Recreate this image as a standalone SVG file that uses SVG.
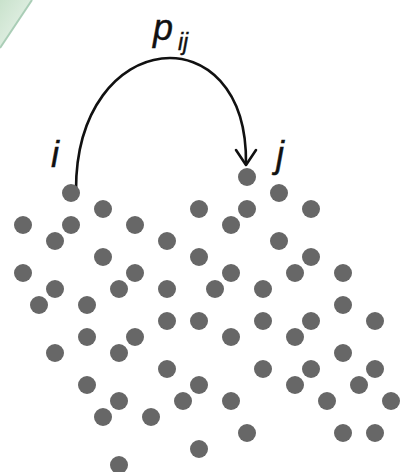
<svg xmlns="http://www.w3.org/2000/svg" width="401" height="472" viewBox="0 0 401 472">
<defs>
<style>
.dot{fill:#676767}
.lbl{font-family:"Liberation Sans",Arial,sans-serif;font-style:italic;fill:#111;stroke:#111;stroke-width:0.4}
.conn{fill:none;stroke:#111;stroke-width:2.6;stroke-linecap:round;stroke-linejoin:round}
</style>
<linearGradient id="g" x1="0" y1="0" x2="1" y2="1">
<stop offset="0" stop-color="#c9e2cc"/>
<stop offset="1" stop-color="#eef6f0"/>
</linearGradient>
</defs>
<rect width="401" height="472" fill="#fff"/>
<g id="bg-corner">
<polygon points="0,0 32,0 0,48" fill="url(#g)"/>
<line x1="32" y1="0" x2="0" y2="48" stroke="#a9cdb6" stroke-width="2"/>
</g>
<g id="connectors">
<path class="conn" d="M76,190 C76,26 248,12 246,164"/>
<polyline class="conn" points="236,150 246,165 256,150"/>
</g>
<g id="labels">
<text id="label-p" class="lbl" x="153" y="40" font-size="36">p</text>
<text id="label-ij" class="lbl" x="178" y="50" font-size="23">ij</text>
<text id="label-i" class="lbl" x="51" y="167" font-size="36">i</text>
<text id="label-j" class="lbl" x="276" y="167" font-size="36">j</text>
</g>
<g id="points">
<circle id="node-i" class="dot" cx="71" cy="193" r="9"/>
<circle id="node-j" class="dot" cx="247" cy="177" r="9"/>
<circle class="dot" cx="279" cy="193" r="9"/>
<circle class="dot" cx="103" cy="209" r="9"/>
<circle class="dot" cx="199" cy="209" r="9"/>
<circle class="dot" cx="247" cy="209" r="9"/>
<circle class="dot" cx="311" cy="209" r="9"/>
<circle class="dot" cx="23" cy="225" r="9"/>
<circle class="dot" cx="71" cy="225" r="9"/>
<circle class="dot" cx="135" cy="225" r="9"/>
<circle class="dot" cx="231" cy="225" r="9"/>
<circle class="dot" cx="55" cy="241" r="9"/>
<circle class="dot" cx="167" cy="241" r="9"/>
<circle class="dot" cx="279" cy="241" r="9"/>
<circle class="dot" cx="103" cy="257" r="9"/>
<circle class="dot" cx="199" cy="257" r="9"/>
<circle class="dot" cx="311" cy="257" r="9"/>
<circle class="dot" cx="23" cy="273" r="9"/>
<circle class="dot" cx="135" cy="273" r="9"/>
<circle class="dot" cx="231" cy="273" r="9"/>
<circle class="dot" cx="295" cy="273" r="9"/>
<circle class="dot" cx="343" cy="273" r="9"/>
<circle class="dot" cx="55" cy="289" r="9"/>
<circle class="dot" cx="119" cy="289" r="9"/>
<circle class="dot" cx="167" cy="289" r="9"/>
<circle class="dot" cx="215" cy="289" r="9"/>
<circle class="dot" cx="263" cy="289" r="9"/>
<circle class="dot" cx="39" cy="305" r="9"/>
<circle class="dot" cx="87" cy="305" r="9"/>
<circle class="dot" cx="343" cy="305" r="9"/>
<circle class="dot" cx="167" cy="321" r="9"/>
<circle class="dot" cx="199" cy="321" r="9"/>
<circle class="dot" cx="263" cy="321" r="9"/>
<circle class="dot" cx="311" cy="321" r="9"/>
<circle class="dot" cx="375" cy="321" r="9"/>
<circle class="dot" cx="87" cy="337" r="9"/>
<circle class="dot" cx="135" cy="337" r="9"/>
<circle class="dot" cx="231" cy="337" r="9"/>
<circle class="dot" cx="295" cy="337" r="9"/>
<circle class="dot" cx="55" cy="353" r="9"/>
<circle class="dot" cx="119" cy="353" r="9"/>
<circle class="dot" cx="343" cy="353" r="9"/>
<circle class="dot" cx="167" cy="369" r="9"/>
<circle class="dot" cx="263" cy="369" r="9"/>
<circle class="dot" cx="311" cy="369" r="9"/>
<circle class="dot" cx="375" cy="369" r="9"/>
<circle class="dot" cx="87" cy="385" r="9"/>
<circle class="dot" cx="199" cy="385" r="9"/>
<circle class="dot" cx="295" cy="385" r="9"/>
<circle class="dot" cx="359" cy="385" r="9"/>
<circle class="dot" cx="119" cy="401" r="9"/>
<circle class="dot" cx="183" cy="401" r="9"/>
<circle class="dot" cx="231" cy="401" r="9"/>
<circle class="dot" cx="327" cy="401" r="9"/>
<circle class="dot" cx="391" cy="401" r="9"/>
<circle class="dot" cx="103" cy="417" r="9"/>
<circle class="dot" cx="151" cy="417" r="9"/>
<circle class="dot" cx="247" cy="433" r="9"/>
<circle class="dot" cx="343" cy="433" r="9"/>
<circle class="dot" cx="375" cy="433" r="9"/>
<circle class="dot" cx="199" cy="449" r="9"/>
<circle class="dot" cx="119" cy="465" r="9"/>
</g>
</svg>
